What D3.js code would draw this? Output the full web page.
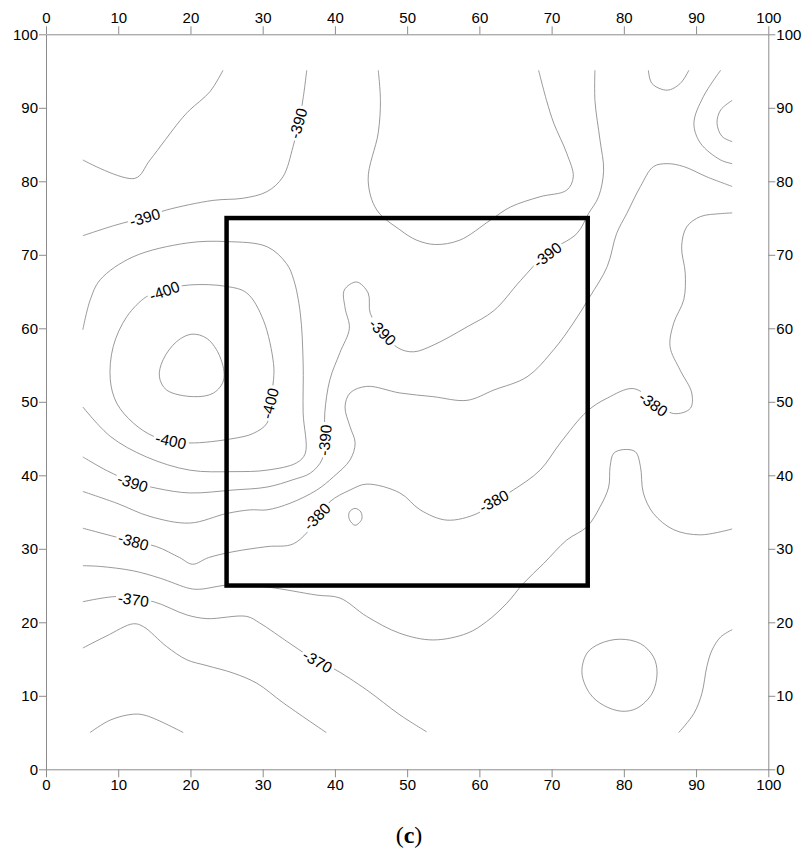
<!DOCTYPE html>
<html>
<head>
<meta charset="utf-8">
<script src="https://cdnjs.cloudflare.com/ajax/libs/d3/7.8.5/d3.min.js"></script>
<style>
  body { margin: 0; background: #fff; }
  svg { display: block; }
</style>
</head>
<body>
<div class="chart"></div>
<script>
// axis ticks (same on all four sides)
var tickValues = [0, 10, 20, 30, 40, 50, 60, 70, 80, 90, 100];

// contour lines, [x, y] in map units
var lineTopLeft = [[5.1,82.9],[12.3,80.4],[14.4,82.9],[18.6,88.3],[19.9,89.7],[22.7,92.2],[24.5,95.1]];
var line390Top = [[5.1,72.6],[9.5,74.0],[13.6,75.1],[16.7,76.1],[23.1,77.4],[27.3,77.7],[30.6,78.6],[32.8,80.6],
                  [34.2,84.7],[35.0,87.9],[35.6,91.3],[36.1,95.1]];
var lineNorth = [[46.0,95.1],[46.3,91.0],[46.0,86.6],[44.6,80.2],[45.8,76.1],[49.0,73.4],[51.3,72.0],[53.9,71.4],
                 [57.3,72.0],[61.5,74.7],[64.3,76.5],[68.4,77.9],[72.1,78.8],[73.0,80.6],[72.1,83.8],[70.3,87.9],
                 [69.3,91.0],[68.2,95.1]];
var line390Long = [[5.1,42.5],[8.5,40.6],[12.0,39.1],[15.5,38.2],[19.9,37.6],[25.9,38.0],[30.6,38.4],[34.2,39.4],
                   [36.6,40.3],[38.2,42.1],[38.6,44.8],[38.6,48.5],[39.3,53.0],[40.7,56.7],[42.0,60.0],[41.4,62.8],
                   [41.3,65.2],[43.0,66.3],[44.6,64.8],[44.9,62.0],[46.7,59.4],[48.8,57.3],[50.9,56.8],[53.6,57.7],
                   [58.3,60.2],[62.0,62.4],[65.7,66.5],[69.3,70.2],[73.5,72.9],[75.1,75.6],[76.5,77.9],[77.2,81.5],
                   [76.7,85.6],[76.0,91.0],[76.0,95.1]];
var lineArcTop = [[83.4,95.1],[83.9,93.3],[86.0,92.4],[87.8,93.3],[89.0,95.1]];
var lineEastTop = [[93.4,95.1],[91.0,91.5],[89.7,87.9],[90.6,85.2],[93.4,82.9],[95.0,82.4]];
var lineArcEast = [[95.0,91.0],[93.4,89.7],[92.9,87.9],[93.6,86.1],[95.0,85.4]];
var line395Ring = [[5.1,59.8],[6.1,63.8],[7.5,66.6],[12.0,69.7],[19.5,71.6],[25.0,71.8],[30.6,71.1],[33.3,68.8],
                   [34.3,66.6],[35.2,62.1],[35.6,55.3],[35.6,48.5],[35.9,43.0],[34.7,41.7],[30.6,40.7],[25.9,40.5],
                   [19.9,40.7],[13.9,42.5],[8.9,45.3],[5.1,49.3]];
var line400Ring = [[16.2,65.2],[19.9,65.9],[25.0,65.7],[27.8,64.8],[30.1,61.1],[31.5,55.2],[31.5,53.0],[31.0,49.8],
                   [30.6,47.1],[28.7,45.7],[25.9,45.0],[19.9,44.4],[17.2,44.8],[14.9,45.3],[12.1,47.1],[9.8,49.8],
                   [8.9,53.0],[9.3,57.5],[11.2,61.6],[13.9,64.3]];
var line405Ring = [[20.2,59.2],[22.3,58.6],[24.1,56.1],[24.6,53.0],[23.2,51.2],[20.4,50.7],[16.7,51.6],[15.7,53.4],
                   [16.2,55.7],[18.1,58.2]];
var line385 = [[5.1,37.8],[9.8,36.2],[14.4,34.4],[19.9,33.5],[25.0,34.8],[28.3,35.3],[30.6,35.3],[33.8,36.2],
               [37.5,38.0],[39.8,39.8],[42.1,42.1],[42.8,44.4],[42.1,46.6],[41.4,49.3],[42.1,51.2],[44.4,52.1],
               [49.0,51.2],[53.6,50.7],[58.3,50.2],[62.0,51.6],[66.6,53.4],[70.3,57.1],[73.0,60.7],[75.3,64.3],
               [77.7,68.4],[79.0,72.9],[80.4,75.6],[82.3,79.3],[84.1,82.0],[86.0,82.4],[88.3,82.0],[91.5,80.6],
               [95.0,79.3]];
var line380 = [[5.1,32.8],[12.1,31.0],[15.3,30.3],[18.5,28.8],[20.3,27.9],[22.5,28.8],[25.9,29.6],[30.6,30.3],
               [34.3,30.7],[37.7,34.1],[39.3,36.4],[42.1,38.0],[44.4,38.8],[49.0,37.6],[51.8,35.3],[55.5,33.9],
               [59.7,34.8],[62.0,36.4],[64.7,38.0],[68.4,40.7],[71.2,44.4],[74.9,48.7],[77.7,50.5],[81.3,51.8],
               [84.3,50.0],[86.9,48.4],[89.2,49.1],[89.4,51.2],[87.8,54.3],[86.4,57.5],[86.9,60.7],[88.3,63.9],
               [88.5,67.5],[88.0,71.1],[88.7,73.8],[90.6,75.2],[93.4,75.6],[95.0,75.7]];
var lineSmallRing = [[42.8,35.5],[43.6,35.0],[43.7,34.0],[42.8,33.2],[42.0,34.0],[42.0,35.0]];
var line375 = [[5.1,27.7],[7.5,27.6],[12.1,27.0],[15.8,26.0],[19.9,24.6],[21.3,24.5],[25.5,25.1],[30.6,24.8],
               [37.5,23.7],[40.7,23.3],[44.4,20.8],[49.0,18.5],[53.6,17.6],[58.3,18.5],[61.0,20.1],[63.8,22.6],
               [66.1,25.3],[68.9,28.0],[72.1,31.2],[74.9,33.0],[76.7,35.7],[77.9,38.4],[78.1,41.2],[78.6,43.0],
               [80.0,43.5],[81.6,43.2],[82.3,41.2],[82.7,37.6],[84.1,34.8],[86.9,32.6],[90.6,31.9],[95.0,32.7]];
var line370 = [[5.1,22.8],[9.8,23.5],[12.1,23.1],[14.9,22.8],[19.5,21.0],[22.3,20.5],[27.8,20.8],[29.6,19.9],
               [33.8,17.1],[37.7,14.6],[39.8,13.7],[44.4,10.8],[49.0,7.4],[52.7,5.1]];
var line365 = [[5.1,16.5],[8.3,18.1],[12.1,19.8],[13.5,19.4],[16.7,16.7],[19.5,14.9],[22.3,14.1],[25.9,13.1],
               [29.2,11.7],[32.9,9.0],[38.8,5.0]];
var line360 = [[6.1,5.0],[8.9,6.7],[12.1,7.5],[13.9,7.3],[19.0,5.0]];
var lineRingSE = [[74.2,13.1],[74.9,15.8],[76.7,17.1],[79.5,17.7],[82.3,17.1],[84.1,15.3],[84.6,13.1],[83.9,10.3],
                  [81.8,8.3],[79.7,7.9],[77.2,8.7],[75.3,10.3]];
var lineSouthEast = [[95.0,19.0],[93.4,18.0],[92.2,16.2],[91.5,14.0],[90.8,10.3],[89.7,7.6],[87.6,5.0]];

var openLines = [lineTopLeft, line390Top, lineNorth, line390Long, lineArcTop, lineEastTop, lineArcEast,
                 line395Ring, line385, line380, line375, line370, line365, line360, lineSouthEast];
var closedLines = [line400Ring, line405Ring, lineSmallRing, lineRingSE];

// contour labels: text, position and rotation along the line
var labelText  = ["-390", "-390", "-400", "-400", "-400", "-390", "-390", "-390", "-390",
                  "-380", "-380", "-380", "-380", "-370", "-370"];
var labelPos   = [[13.7,75.1], [34.9,87.9], [16.4,65.1], [31.0,49.8], [17.3,44.7], [12.0,39.0], [38.6,44.8],
                  [46.6,59.5], [69.4,70.0], [12.1,31.0], [37.5,34.4], [62.0,36.5], [84.1,49.7], [12.1,23.1],
                  [37.6,14.7]];
var labelAngle = [-16, -74, -20, -76, 12, 18, -85, 45, -38, 16, -46, -28, 36, 8, 30];

// the study square
var boxCorners = [[25, 25], [75, 75]];

var width = 803, height = 849;
var margin = {top: 34.3, right: 34.7, bottom: 79.7, left: 46};

var svg = d3.select(".chart").append("svg")
    .attr("width", width)
    .attr("height", height);

var x = d3.scaleLinear().domain([0, 100]).range([margin.left, width - margin.right]);
var y = d3.scaleLinear().domain([0, 100]).range([height - margin.bottom, margin.top]);

// axes on all four sides
function styleAxis(g) {
    g.selectAll("path, line").attr("stroke", "#8c8c8c").attr("stroke-width", 1);
    g.selectAll("text").attr("fill", "#000")
        .style("font-family", "'Liberation Sans', Arial, sans-serif").style("font-size", "15px");
}
svg.append("g").attr("transform", "translate(0," + y(100) + ")")
    .call(d3.axisTop(x).tickValues(tickValues).tickSize(8).tickSizeOuter(0).tickPadding(3))
    .call(styleAxis);
svg.append("g").attr("transform", "translate(0," + y(0) + ")")
    .call(d3.axisBottom(x).tickValues(tickValues).tickSize(8).tickSizeOuter(0).tickPadding(2))
    .call(styleAxis);
svg.append("g").attr("transform", "translate(" + x(0) + ",0)")
    .call(d3.axisLeft(y).tickValues(tickValues).tickSize(7).tickSizeOuter(0).tickPadding(1))
    .call(styleAxis);
svg.append("g").attr("transform", "translate(" + x(100) + ",0)")
    .call(d3.axisRight(y).tickValues(tickValues).tickSize(7).tickSizeOuter(0).tickPadding(1))
    .call(styleAxis);

// contour lines
var openLine = d3.line()
    .x(function(d) { return x(d[0]); })
    .y(function(d) { return y(d[1]); })
    .curve(d3.curveCatmullRom.alpha(0.5));
var closedLine = d3.line()
    .x(function(d) { return x(d[0]); })
    .y(function(d) { return y(d[1]); })
    .curve(d3.curveCatmullRomClosed.alpha(0.5));

var contourG = svg.append("g")
    .attr("fill", "none")
    .attr("stroke", "#808080")
    .attr("stroke-width", 0.8);
contourG.selectAll(".open").data(openLines).enter().append("path")
    .attr("class", "open")
    .attr("d", openLine);
contourG.selectAll(".closed").data(closedLines).enter().append("path")
    .attr("class", "closed")
    .attr("d", closedLine);

// contour labels with a white gap under them
var labels = svg.append("g").selectAll("g")
    .data(labelText).enter().append("g")
    .attr("transform", function(d, i) {
        return "translate(" + x(labelPos[i][0]) + "," + y(labelPos[i][1]) + ") rotate(" + labelAngle[i] + ")";
    });
labels.append("rect").attr("fill", "#fff");
labels.append("text")
    .attr("text-anchor", "middle")
    .attr("dy", "0.36em")
    .style("font-family", "'Liberation Sans', Arial, sans-serif")
    .style("font-size", "15.5px")
    .attr("fill", "#000")
    .text(function(d) { return d; });
labels.each(function() {
    var g = d3.select(this);
    var b = g.select("text").node().getBBox();
    g.select("rect")
        .attr("x", b.x - 2).attr("y", b.y + 1)
        .attr("width", b.width + 4).attr("height", b.height - 2);
});

// study square
svg.append("rect")
    .attr("x", x(boxCorners[0][0]))
    .attr("y", y(boxCorners[1][1]))
    .attr("width", x(boxCorners[1][0]) - x(boxCorners[0][0]))
    .attr("height", y(boxCorners[0][1]) - y(boxCorners[1][1]))
    .attr("fill", "none")
    .attr("stroke", "#000")
    .attr("stroke-width", 4.5);

// panel caption
var caption = svg.append("text")
    .attr("x", 409)
    .attr("y", 843)
    .attr("text-anchor", "middle")
    .style("font-family", "'Liberation Serif', 'Times New Roman', serif")
    .style("font-size", "24px")
    .attr("fill", "#000");
caption.append("tspan").text("(");
caption.append("tspan").style("font-weight", "bold").text("c");
caption.append("tspan").text(")");
</script>
</body>
</html>
